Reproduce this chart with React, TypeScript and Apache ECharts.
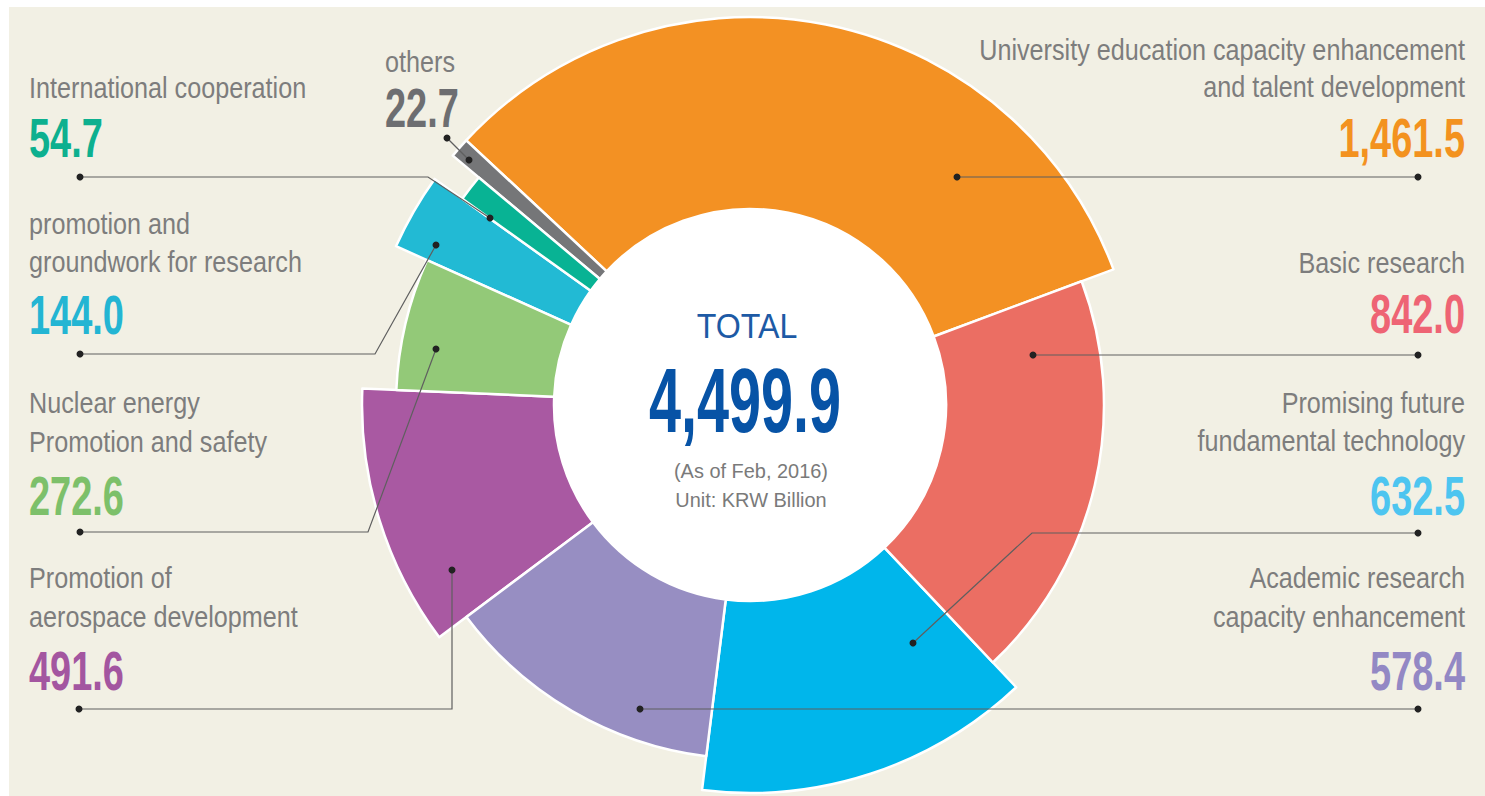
import React, { useEffect, useRef } from 'react';
import * as echarts from 'echarts';

// ---------- data ----------
const CATEGORIES: string[] = [
  'University education capacity enhancement\nand talent development',
  'Basic research',
  'Promising future\nfundamental technology',
  'Academic research\ncapacity enhancement',
  'Promotion of\naerospace development',
  'Nuclear energy\nPromotion and safety',
  'promotion and\ngroundwork for research',
  'International cooperation',
  'others',
];
const VALUES: number[] = [1461.5, 842.0, 632.5, 578.4, 491.6, 272.6, 144.0, 54.7, 22.7];
const TOTAL_TITLE = 'TOTAL';
const TOTAL_VALUE = 4499.9;
const NOTE_LINES: string[] = ['(As of Feb, 2016)', 'Unit: KRW Billion'];

// ---------- styles ----------
const SLICE_COLORS = ['#F39123', '#EB6E63', '#00B6EB', '#978EC2', '#A959A2', '#93C978', '#22BAD4', '#08B394', '#757678'];
const VALUE_COLORS = ['#F3921F', '#EE6474', '#4DC5F0', '#9388C4', '#A356A0', '#7DC06A', '#23B5D3', '#0DB08F', '#6D6E71'];
const BG = '#F2F0E4';
const LABEL_GRAY = '#7d7d7d';
const CENTER: [number, number] = [750, 405];
const INNER_R = 196;
const OUTER_R_FAR = 388;
const OUTER_R_NEAR = 354;
const FONT = '"Liberation Sans", Arial, sans-serif';

// ---------- annotation layout (pixels) ----------
type Layout = {
  align: 'left' | 'right';
  x: number;
  lineBase: number[];
  valueBase: number;
  leader: number[][];
};
const LABEL_LAYOUT: Layout[] = [
  { align: 'right', x: 1465, lineBase: [60, 97], valueBase: 157, leader: [[957, 177], [1418, 177]] },
  { align: 'right', x: 1465, lineBase: [273], valueBase: 333, leader: [[1033, 355], [1418, 355]] },
  { align: 'right', x: 1465, lineBase: [413, 451], valueBase: 515, leader: [[913, 643], [1032, 533], [1418, 533]] },
  { align: 'right', x: 1465, lineBase: [588, 627], valueBase: 690, leader: [[640, 709], [1418, 709]] },
  { align: 'left', x: 29, lineBase: [588, 627], valueBase: 690, leader: [[452, 570], [452, 709], [79, 709]] },
  { align: 'left', x: 29, lineBase: [413, 452], valueBase: 515, leader: [[436, 349], [368, 532], [80, 532]] },
  { align: 'left', x: 29, lineBase: [234, 272], valueBase: 334, leader: [[436, 245], [375, 354], [80, 354]] },
  { align: 'left', x: 29, lineBase: [98], valueBase: 157, leader: [[490, 218], [428, 177], [80, 177]] },
  { align: 'left', x: 385, lineBase: [72], valueBase: 127, leader: [[469, 160], [447, 138]] },
];

const fmt = (v: number) =>
  v.toLocaleString('en-US', { minimumFractionDigits: 1, maximumFractionDigits: 1 });

const MID = 0.35; // central baseline offset (em)

function textEl(text: string, x: number, baseline: number, size: number, weight: string, fill: string, align: string, scaleX = 1) {
  return {
    type: 'text',
    x,
    y: baseline - size * MID,
    scaleX,
    z: 20,
    silent: true,
    style: {
      text,
      font: `${weight} ${size}px ${FONT}`,
      fill,
      align,
      verticalAlign: 'middle',
      textAlign: align,
      textVerticalAlign: 'middle',
    },
  };
}

export default function App() {
  const ref = useRef<HTMLDivElement>(null);

  useEffect(() => {
    if (!ref.current) return;
    const chart = echarts.init(ref.current, undefined, { renderer: 'svg' });

    const pieData = (far: boolean) =>
      VALUES.map((v, i) => {
        const show = (i % 2 === 0) === far;
        return {
          name: CATEGORIES[i],
          value: v,
          itemStyle: show
            ? { color: SLICE_COLORS[i], borderColor: '#ffffff', borderWidth: 2.5 }
            : { color: 'rgba(0,0,0,0)', borderWidth: 0 },
        };
      });

    const graphics: any[] = [];
    graphics.push({
      type: 'rect',
      z: 0,
      silent: true,
      shape: { x: 9, y: 7, width: 1485 - 9, height: 796 - 7 },
      style: { fill: BG },
    });
    graphics.push({
      type: 'circle',
      z: 1,
      silent: true,
      shape: { cx: CENTER[0], cy: CENTER[1], r: INNER_R + 1 },
      style: { fill: '#ffffff' },
    });

    LABEL_LAYOUT.forEach((lay, i) => {
      const lines = CATEGORIES[i].split('\n');
      lines.forEach((ln, k) => {
        graphics.push(textEl(ln, lay.x, lay.lineBase[k], 30, 'normal', LABEL_GRAY, lay.align, 0.84));
      });
      graphics.push(textEl(fmt(VALUES[i]), lay.x, lay.valueBase, 55, 'bold', VALUE_COLORS[i], lay.align, 0.69));
      graphics.push({
        type: 'polyline',
        z: 20,
        silent: true,
        shape: { points: lay.leader },
        style: { stroke: '#5f5f5f', lineWidth: 1.2, fill: null },
      });
      const ends = [lay.leader[0], lay.leader[lay.leader.length - 1]];
      ends.forEach((p) => {
        graphics.push({
          type: 'circle',
          z: 21,
          silent: true,
          shape: { cx: p[0], cy: p[1], r: 3.5 },
          style: { fill: '#222222' },
        });
      });
    });

    // center texts
    graphics.push(textEl(TOTAL_TITLE, 747, 338, 35, 'normal', '#1D5AA5', 'center', 0.92));
    graphics.push(textEl(fmt(TOTAL_VALUE), 745, 433, 90, 'bold', '#0753A6', 'center', 0.64));
    NOTE_LINES.forEach((t, k) => {
      graphics.push(textEl(t, 751, [478, 507][k], 21, 'normal', '#7a7a7a', 'center', 0.95));
    });

    const common = {
      type: 'pie',
      center: CENTER,
      startAngle: 137,
      minAngle: 3,
      clockwise: true,
      silent: true,
      avoidLabelOverlap: false,
      label: { show: false },
      labelLine: { show: false },
      emphasis: { disabled: true },
      z: 5,
    };

    chart.setOption({
      animation: false,
      backgroundColor: '#ffffff',
      graphic: { elements: graphics },
      series: [
        { ...common, name: 'far', radius: [INNER_R, OUTER_R_FAR], data: pieData(true) },
        { ...common, name: 'near', radius: [INNER_R, OUTER_R_NEAR], data: pieData(false) },
      ],
    });

    return () => chart.dispose();
  }, []);

  return (
    <div
      ref={ref}
      style={{ position: 'absolute', left: 0, top: 0, width: 1485, height: 796 }}
    />
  );
}
